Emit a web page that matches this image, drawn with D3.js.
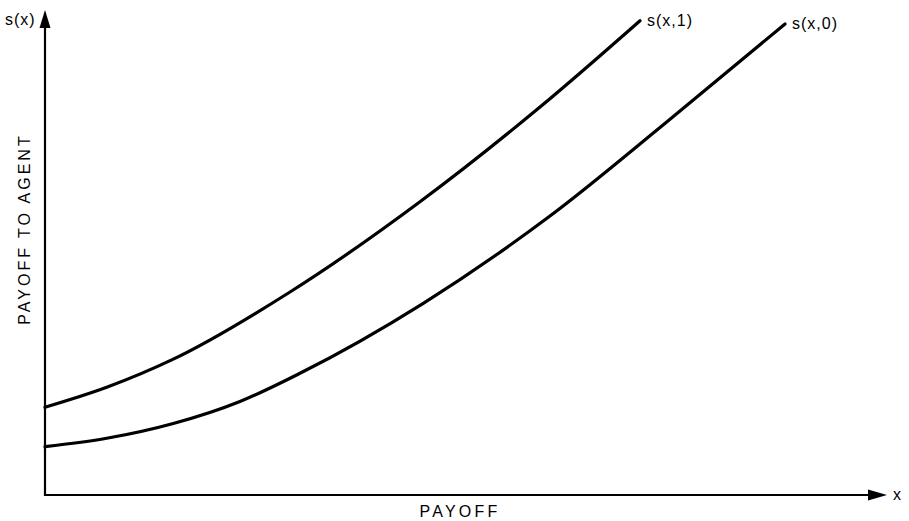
<!DOCTYPE html>
<html>
<head>
<meta charset="utf-8">
<script src="https://cdn.jsdelivr.net/npm/d3@7"></script>
<style>
  html, body { margin: 0; padding: 0; background: #fff; }
  svg { display: block; }
  text { font-family: "Liberation Sans", Arial, Helvetica, sans-serif; fill: #000; }
</style>
</head>
<body>
<svg id="chart" width="909" height="521"></svg>
<script>
// Sharing rule curves: payoff x vs payoff to agent s(x, e)
const xs1 = [0, 7.31, 15.20, 29.03, 44.43, 58.65, 70.50];
const ys1 = [18.16, 22.30, 28.12, 42.03, 60.72, 80.33, 98.20];
const xs0 = [0, 7.31, 15.20, 23.10, 30.21, 44.82, 59.83, 73.66, 87.68];
const ys0 = [10.00, 11.74, 14.80, 19.36, 25.20, 39.69, 57.76, 77.23, 97.52];
const seriesNames = ["s(x,1)", "s(x,0)"];
const xAxisLabel = "PAYOFF";
const yAxisLabel = "PAYOFF TO AGENT";
const xAxisName = "x";
const yAxisName = "s(x)";

const svg = d3.select("#chart");
const x0 = 45, yBase = 495;
const x = d3.scaleLinear().domain([0, 100]).range([x0, x0 + 844]);
const y = d3.scaleLinear().domain([0, 100]).range([yBase, yBase - 483]);

// axes
svg.append("line").attr("x1", x0).attr("x2", 872).attr("y1", yBase).attr("y2", yBase)
  .attr("stroke", "#000").attr("stroke-width", 2.2);
svg.append("line").attr("x1", x0).attr("x2", x0).attr("y1", yBase + 1).attr("y2", 26)
  .attr("stroke", "#000").attr("stroke-width", 2.2);

// arrowheads
svg.append("path").attr("d", `M${x0 - 5.5},28 L${x0},10 L${x0 + 5.5},28 Z`).attr("fill", "#000");
svg.append("path").attr("d", `M868,${yBase - 5.5} L887,${yBase} L868,${yBase + 5.5} Z`).attr("fill", "#000");

// curves (monotone cubic through the sampled points)
const line = d3.line().x(d => x(d[0])).y(d => y(d[1])).curve(d3.curveMonotoneX);
const series = [d3.zip(xs1, ys1), d3.zip(xs0, ys0)];
svg.selectAll("path.curve").data(series).join("path")
  .attr("class", "curve")
  .attr("d", line)
  .attr("fill", "none").attr("stroke", "#000").attr("stroke-width", 3.2)
  .attr("stroke-linecap", "round");

// curve labels at end points
svg.selectAll("text.curve-label").data(series).join("text")
  .attr("class", "curve-label")
  .attr("x", d => x(d[d.length - 1][0]) + 7)
  .attr("y", d => y(d[d.length - 1][1]) + 5)
  .attr("font-size", 16)
  .attr("letter-spacing", 1)
  .text((d, i) => seriesNames[i]);

// axis names
svg.append("text").attr("x", 5).attr("y", 25).attr("font-size", 16).attr("letter-spacing", 1).text(yAxisName);
svg.append("text").attr("x", 893).attr("y", 500).attr("font-size", 16).text(xAxisName);

// axis titles
svg.append("text").attr("x", 460).attr("y", 517).attr("text-anchor", "middle")
  .attr("font-size", 16).attr("letter-spacing", 3.2).text(xAxisLabel);
svg.append("text").attr("transform", "translate(30,229) rotate(-90)").attr("text-anchor", "middle")
  .attr("font-size", 16).attr("letter-spacing", 3).text(yAxisLabel);
</script>
</body>
</html>
